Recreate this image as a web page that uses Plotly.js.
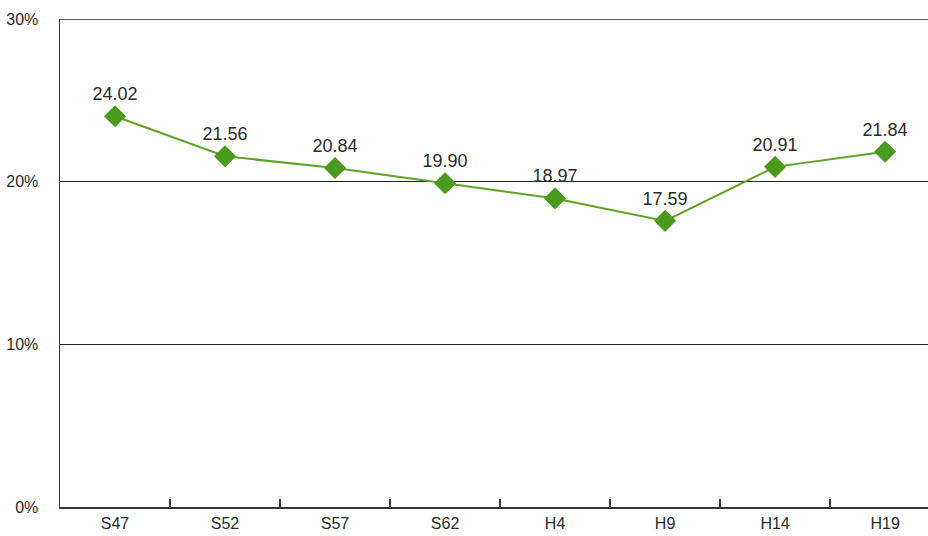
<!DOCTYPE html>
<html><head><meta charset="utf-8">
<script src="https://cdn.plot.ly/plotly-3.0.1.min.js"></script>
<style>html,body{margin:0;padding:0;background:#fff}#c{width:928px;height:536px}</style>
</head><body><div id="c"></div>
<script>
const categories = ["S47","S52","S57","S62","H4","H9","H14","H19"];
const values = [24.02,21.56,20.84,19.90,18.97,17.59,20.91,21.84];
const valueLabels = ["24.02","21.56","20.84","19.90","18.97","17.59","20.91","21.84"];
const yTickVals = [0,10,20,30];
const yTickText = ["0%","10%","20%","30%"];

const F = "Liberation Sans, Arial, sans-serif";
const trace = {
  x: categories, y: values, type: "scatter", mode: "lines+markers+text",
  text: valueLabels, textposition: "top center",
  textfont: {family: F, size: 18, color: "#2a2a2a"},
  line: {color: "#5fa326", width: 2},
  marker: {symbol: "diamond", size: 17, color: "#4a9a1e"},
  cliponaxis: false, hoverinfo: "none"
};
const layout = {
  width: 928, height: 536,
  margin: {l: 60, r: 0, t: 19, b: 29},
  paper_bgcolor: "#fff", plot_bgcolor: "#fff",
  showlegend: false,
  xaxis: {
    type: "category", range: [-0.5, 7.39],
    showgrid: false, showline: true, linecolor: "#333", linewidth: 1.5,
    ticks: "inside", tickson: "boundaries", ticklen: 8, tickcolor: "#333", tickwidth: 1.5,
    ticklabelstandoff: 1,
    tickfont: {family: F, size: 16, color: "#2a2a2a"},
    zeroline: false, fixedrange: true
  },
  yaxis: {
    range: [0, 30], tickvals: yTickVals, ticktext: yTickText,
    showgrid: true, gridcolor: "#222", gridwidth: 1,
    showline: true, linecolor: "#333", linewidth: 1.5,
    ticks: "", ticklabelstandoff: 17,
    tickfont: {family: F, size: 16, color: "#2a2a2a"},
    zeroline: false, fixedrange: true
  },
  shapes: [{type: "line", xref: "paper", yref: "y", x0: 0, x1: 1, y0: 30, y1: 30,
            line: {color: "#222", width: 1.5}, layer: "below"}]
};
Plotly.newPlot("c", [trace], layout, {staticPlot: true});
</script></body></html>
